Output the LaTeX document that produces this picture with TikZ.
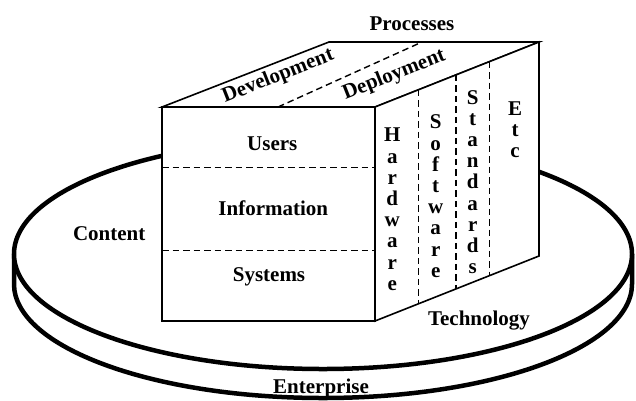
\documentclass[tikz,border=0pt]{standalone}
\usepackage{fontspec}
\setmainfont{Liberation Serif}
\begin{document}
\begin{tikzpicture}[x=1pt,y=-1pt,
  lbl/.style={font=\fontsize{21}{21.2}\selectfont\bfseries, inner sep=0pt},
  vlbl/.style={lbl, align=center, anchor=north},
  disc/.style={line width=4.5pt},
  edge/.style={line width=1.6pt, line join=miter},
  dline/.style={line width=1.4pt, dash pattern=on 6.5pt off 4pt}]
\useasboundingbox (0,0) rectangle (636,400);
% disc (Enterprise / Content)
\draw[disc] (632,254) -- (632,284)
  arc[start angle=0, end angle=180, x radius=309, y radius=114] -- (14,254);
\draw[disc, fill=white] (323,254) ellipse[x radius=309, y radius=115];
% cube corners
\coordinate (A) at (162,107);
\coordinate (B) at (375,107);
\coordinate (C) at (375,321);
\coordinate (D) at (162,321);
\coordinate (E) at (329,42);
\coordinate (G) at (539,42);
\coordinate (H) at (539,256);
% faces
\draw[edge, fill=white] (A) -- (E) -- (G) -- (B) -- cycle;
\draw[edge, fill=white] (B) -- (G) -- (H) -- (C) -- cycle;
\draw[edge, fill=white] (A) -- (B) -- (C) -- (D) -- cycle;
% dashed dividers
\draw[dline] (162,167.3) -- (375,167.3);
\draw[dline] (162,250.7) -- (375,250.7);
\draw[dline] (278,107) -- (422,42);
\draw[dline] (418.5,89.8) -- (418.5,303.8);
\draw[dline] (456,74.9) -- (456,288.9);
\draw[dline] (489.5,61.6) -- (489.5,275.6);
% labels
\node[lbl, anchor=base] (proc) at (412,30) {Processes};
\node[lbl, anchor=base, rotate=21.6] (dev) at (280,81) {Development};
\node[lbl, anchor=base, rotate=21.6] (dep) at (396,80) {Deployment};
\node[lbl, anchor=base] (users) at (272.3,150.3) {Users};
\node[lbl, anchor=base] (info) at (273.3,215.3) {Information};
\node[lbl, anchor=base] (sys) at (269,281.7) {Systems};
\node[lbl, anchor=base] (cont) at (109.2,240) {Content};
\node[lbl, anchor=base] (tech) at (479,325) {Technology};
\node[lbl, anchor=base] (ent) at (321,393.3) {Enterprise};
\node[vlbl] (hw) at (392.3,128) {H\\a\\r\\d\\w\\a\\r\\e};
\node[vlbl] (sw) at (435.7,114.8) {S\\o\\f\\t\\w\\a\\r\\e};
\node[vlbl] (st) at (472.7,89.9) {S\\t\\a\\n\\d\\a\\r\\d\\s};
\node[vlbl] (etc) at (515,101.5) {E\\t\\c};
\end{tikzpicture}
\end{document}
